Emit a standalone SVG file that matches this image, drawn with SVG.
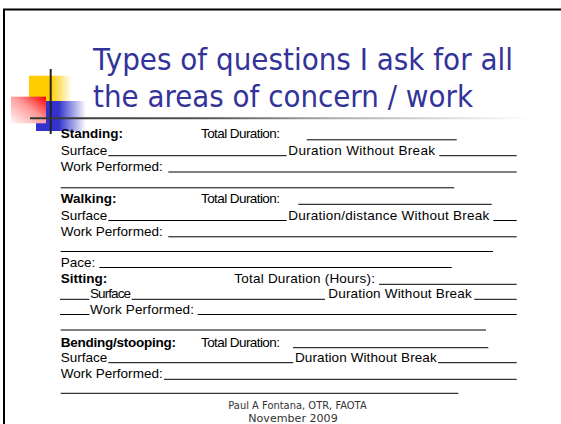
<svg xmlns="http://www.w3.org/2000/svg" width="561" height="424" viewBox="0 0 561 424">
<style>
.t{font-family:"Liberation Sans",Arial,sans-serif;font-size:13.5px;fill:#000}
.b{font-weight:bold}
.ttl{font-family:"DejaVu Sans",Tahoma,sans-serif;font-size:30px;fill:#333399}
.ft{font-family:"DejaVu Sans",Tahoma,sans-serif;font-size:10.5px;fill:#333}
.u{stroke:#000;stroke-width:1;fill:none}
</style>
<defs>
<linearGradient id="gy" gradientUnits="userSpaceOnUse" x1="29" y1="0" x2="72" y2="0">
<stop offset="0" stop-color="#FFCC00"/><stop offset="0.5" stop-color="#FFCC00"/><stop offset="1" stop-color="#FFFFFF"/>
</linearGradient>
<linearGradient id="gb" gradientUnits="userSpaceOnUse" x1="36" y1="0" x2="86" y2="0">
<stop offset="0" stop-color="#3333CC"/><stop offset="0.45" stop-color="#3333CC"/><stop offset="1" stop-color="#FFFFFF"/>
</linearGradient>
<linearGradient id="gr" x1="0" y1="1" x2="1" y2="0">
<stop offset="0" stop-color="#FFF8F8"/><stop offset="0.55" stop-color="#FF9999"/><stop offset="1" stop-color="#FF0000"/>
</linearGradient>
<linearGradient id="gl" gradientUnits="userSpaceOnUse" x1="30" y1="0" x2="532" y2="0">
<stop offset="0" stop-color="#333333"/><stop offset="0.35" stop-color="#555555"/><stop offset="0.6" stop-color="#aaaaaa"/><stop offset="1" stop-color="#ffffff"/>
</linearGradient>
</defs>
<rect width="561" height="424" fill="#fff"/>
<path d="M4,424 V9.5 H561" fill="none" stroke="#000" stroke-width="2"/>
<g id="logo">
<rect x="29" y="75.7" width="43" height="27" fill="url(#gy)"/>
<rect x="36" y="101" width="50" height="30" fill="url(#gb)"/>
<rect x="11" y="96.7" width="35" height="26.6" fill="url(#gr)"/>
<line x1="50.7" y1="69" x2="50.7" y2="134" stroke="#222" stroke-width="2"/>
<line x1="30" y1="118.3" x2="532" y2="118.3" stroke="url(#gl)" stroke-width="2"/>
</g>
<g id="title">
<text class="ttl" x="93" y="70" textLength="420" lengthAdjust="spacingAndGlyphs">Types of questions I ask for all</text>
<text class="ttl" x="93" y="106.7" textLength="380" lengthAdjust="spacingAndGlyphs">the areas of concern / work</text>
</g>
<g id="standing">
<text class="t b" x="60.7" y="138.3">Standing:</text>
<text class="t" x="201" y="138.3" textLength="79">Total Duration:</text>
<text class="t" x="60.7" y="154.7">Surface</text>
<text class="t" x="288.3" y="154.7" textLength="146.7">Duration Without Break</text>
<text class="t" x="60.7" y="171" textLength="102">Work Performed:</text>
</g>
<g id="walking">
<text class="t b" x="60.7" y="203.3">Walking:</text>
<text class="t" x="201" y="203.3" textLength="79">Total Duration:</text>
<text class="t" x="60.7" y="219.5">Surface</text>
<text class="t" x="288.3" y="219.5" textLength="201">Duration/distance Without Break</text>
<text class="t" x="60.7" y="235.8" textLength="102">Work Performed:</text>
<text class="t" x="60.7" y="266.7">Pace:</text>
</g>
<g id="sitting">
<text class="t b" x="60.7" y="283.3">Sitting:</text>
<text class="t" x="234.3" y="283.3" textLength="140.7">Total Duration (Hours):</text>
<text class="t" x="90" y="298.3" textLength="41">Surface</text>
<text class="t" x="328.3" y="298.3" textLength="143.4">Duration Without Break</text>
<text class="t" x="90" y="313.5" textLength="104">Work Performed:</text>
</g>
<g id="bending">
<text class="t b" x="60.7" y="346.7" textLength="115.3">Bending/stooping:</text>
<text class="t" x="201" y="346.7" textLength="79">Total Duration:</text>
<text class="t" x="60.7" y="361.7">Surface</text>
<text class="t" x="295" y="361.7" textLength="141.7">Duration Without Break</text>
<text class="t" x="60.7" y="378.3" textLength="102">Work Performed:</text>
</g>
<g id="connectors">
<line class="u" x1="306.7" y1="139.8" x2="456.7" y2="139.8"/>
<line class="u" x1="108.3" y1="155.7" x2="286.7" y2="155.7"/>
<line class="u" x1="439.3" y1="155.7" x2="516.7" y2="155.7"/>
<line class="u" x1="168.3" y1="172" x2="516.7" y2="172"/>
<line class="u" x1="60.7" y1="187.8" x2="454.3" y2="187.8"/>
<line class="u" x1="298.3" y1="204.3" x2="491.7" y2="204.3"/>
<line class="u" x1="108.3" y1="220.5" x2="286.7" y2="220.5"/>
<line class="u" x1="493.3" y1="220.5" x2="516.7" y2="220.5"/>
<line class="u" x1="168.3" y1="236.8" x2="516.7" y2="236.8"/>
<line class="u" x1="60.7" y1="251.5" x2="493" y2="251.5"/>
<line class="u" x1="99.3" y1="267.5" x2="451.7" y2="267.5"/>
<line class="u" x1="379" y1="284.3" x2="516.7" y2="284.3"/>
<line class="u" x1="60" y1="299.3" x2="89.3" y2="299.3"/>
<line class="u" x1="131.7" y1="299.3" x2="325" y2="299.3"/>
<line class="u" x1="474.3" y1="299.3" x2="516.7" y2="299.3"/>
<line class="u" x1="60" y1="314.5" x2="89.3" y2="314.5"/>
<line class="u" x1="197.7" y1="314.5" x2="516.7" y2="314.5"/>
<line class="u" x1="60.7" y1="330" x2="486" y2="330"/>
<line class="u" x1="293" y1="347.7" x2="488.3" y2="347.7"/>
<line class="u" x1="108.3" y1="362.7" x2="293.3" y2="362.7"/>
<line class="u" x1="438" y1="362.7" x2="516.7" y2="362.7"/>
<line class="u" x1="164" y1="379.3" x2="516.7" y2="379.3"/>
<line class="u" x1="60.7" y1="393.3" x2="458.3" y2="393.3"/>
</g>
<g id="footer">
<text class="ft" x="228.3" y="408.5" textLength="138.4" lengthAdjust="spacingAndGlyphs">Paul A Fontana, OTR, FAOTA</text>
<text class="ft" x="248.3" y="421.5" textLength="89.4" lengthAdjust="spacingAndGlyphs">November 2009</text>
</g>
</svg>
